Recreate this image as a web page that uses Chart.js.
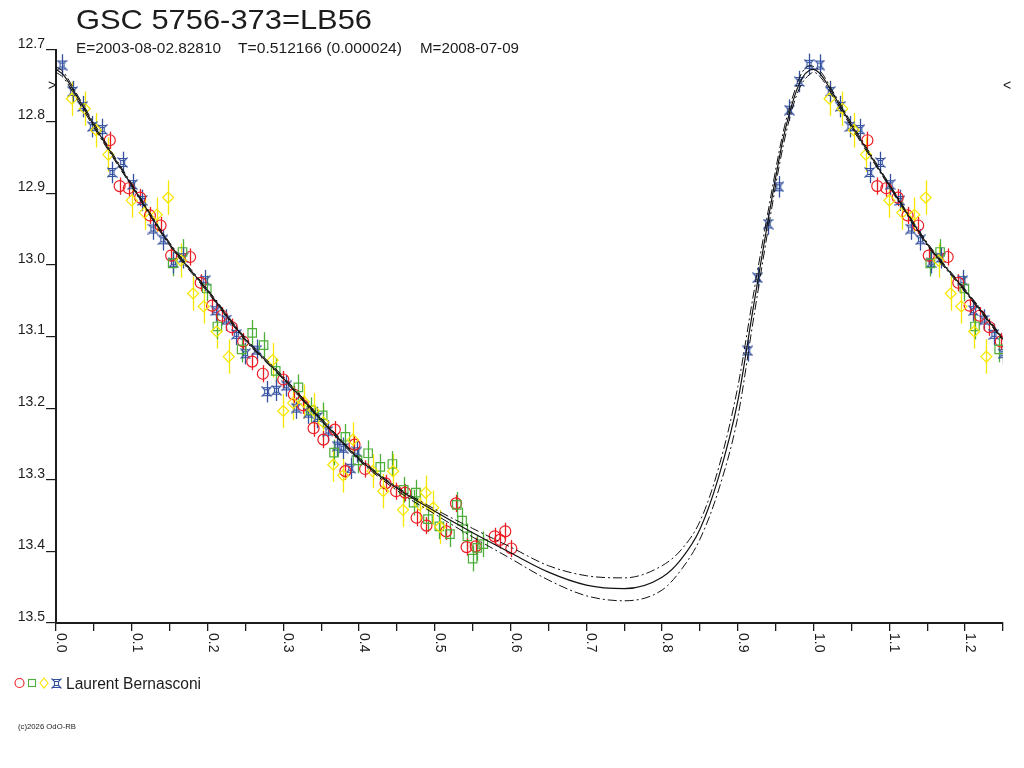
<!DOCTYPE html>
<html>
<head>
<meta charset="utf-8">
<script src="https://cdn.jsdelivr.net/npm/chart.js@4.4.1/dist/chart.umd.min.js"></script>
<style>
html, body { margin: 0; background: #fff; }
canvas { display: block; }
</style>
</head>
<body>
<canvas id="lc" width="1024" height="768"></canvas>
<script>
// observations, phase / magnitude, one pair of arrays per symbol
var redPhase = [0.071, 0.084, 0.096, 0.111, 0.124, 0.138, 0.152, 0.177, 0.191, 0.206, 0.219, 0.232, 0.247, 0.259, 0.273, 0.300, 0.314, 0.326, 0.340, 0.353, 0.368, 0.382, 0.394, 0.408, 0.435, 0.449, 0.461, 0.476, 0.489, 0.515, 0.528, 0.542, 0.554, 0.579, 0.586, 0.593, 0.601];
var redMag   = [12.826, 12.890, 12.893, 12.906, 12.931, 12.945, 12.987, 12.989, 13.025, 13.057, 13.071, 13.087, 13.107, 13.135, 13.152, 13.160, 13.181, 13.196, 13.228, 13.244, 13.230, 13.288, 13.251, 13.285, 13.305, 13.316, 13.318, 13.353, 13.364, 13.372, 13.333, 13.394, 13.393, 13.379, 13.384, 13.372, 13.396];

var greenPhase = [0.154, 0.167, 0.199, 0.213, 0.245, 0.259, 0.274, 0.290, 0.320, 0.337, 0.352, 0.367, 0.382, 0.398, 0.412, 0.428, 0.444, 0.459, 0.472, 0.475, 0.491, 0.506, 0.520, 0.529, 0.536, 0.543, 0.550, 0.556, 0.564];
var greenMag   = [12.998, 12.982, 13.033, 13.086, 13.118, 13.095, 13.112, 13.148, 13.171, 13.203, 13.210, 13.262, 13.240, 13.273, 13.263, 13.282, 13.278, 13.314, 13.332, 13.318, 13.355, 13.365, 13.376, 13.335, 13.357, 13.379, 13.410, 13.395, 13.390];

var yellowPhase = [0.021, 0.038, 0.053, 0.069, 0.100, 0.117, 0.133, 0.148, 0.165, 0.181, 0.195, 0.212, 0.228, 0.286, 0.300, 0.313, 0.327, 0.340, 0.353, 0.366, 0.379, 0.392, 0.418, 0.432, 0.445, 0.458, 0.480, 0.488, 0.498, 0.507];
var yellowMag   = [12.768, 12.782, 12.812, 12.846, 12.910, 12.927, 12.930, 12.906, 12.994, 13.040, 13.058, 13.093, 13.128, 13.133, 13.204, 13.193, 13.191, 13.203, 13.220, 13.279, 13.294, 13.244, 13.288, 13.316, 13.288, 13.342, 13.335, 13.318, 13.339, 13.366];

var bluePhase = [0.008, 0.022, 0.035, 0.048, 0.061, 0.074, 0.088, 0.101, 0.114, 0.128, 0.141, 0.155, 0.168, 0.197, 0.211, 0.225, 0.238, 0.250, 0.265, 0.278, 0.291, 0.304, 0.317, 0.333, 0.345, 0.359, 0.371, 0.379, 0.389, 0.397, 0.913, 0.926, 0.940, 0.954, 0.968, 0.981, 0.994];
var blueMag   = [12.721, 12.758, 12.779, 12.807, 12.811, 12.871, 12.857, 12.888, 12.910, 12.950, 12.965, 12.997, 12.990, 13.022, 13.064, 13.077, 13.097, 13.124, 13.119, 13.177, 13.175, 13.169, 13.200, 13.207, 13.213, 13.232, 13.253, 13.256, 13.284, 13.261, 13.120, 13.018, 12.943, 12.891, 12.784, 12.744, 12.720];

// half length of the error bars, per symbol (red, green, yellow, blue)
var errSize = [0.012, 0.018, 0.024, 0.015];

// fitted light curve and its two envelopes
var curvePhase = [0, 0.01, 0.025, 0.05, 0.1, 0.15, 0.2, 0.25, 0.3, 0.35, 0.4, 0.45, 0.5, 0.55, 0.6, 0.65, 0.7, 0.75, 0.8, 0.825, 0.85, 0.875, 0.9, 0.92, 0.94, 0.96, 0.975, 0.985, 0.995];
var fitMid   = [12.727, 12.735, 12.760, 12.805, 12.889, 12.971, 13.036, 13.104, 13.158, 13.216, 13.271, 13.312, 13.344, 13.374, 13.402, 13.429, 13.447, 13.452, 13.436, 13.411, 13.369, 13.295, 13.190, 13.062, 12.937, 12.823, 12.764, 12.739, 12.728];
var fitUpper = [12.723, 12.731, 12.757, 12.802, 12.887, 12.969, 13.034, 13.102, 13.156, 13.214, 13.269, 13.310, 13.341, 13.368, 13.394, 13.420, 13.434, 13.437, 13.420, 13.398, 13.358, 13.282, 13.170, 13.045, 12.925, 12.814, 12.757, 12.731, 12.722];
var fitLower = [12.731, 12.739, 12.764, 12.808, 12.891, 12.973, 13.038, 13.106, 13.160, 13.218, 13.273, 13.315, 13.348, 13.380, 13.410, 13.440, 13.462, 13.469, 13.454, 13.426, 13.383, 13.313, 13.212, 13.080, 12.950, 12.833, 12.771, 12.746, 12.734];

var xTickLabels = ['0.0', '0.1', '0.2', '0.3', '0.4', '0.5', '0.6', '0.7', '0.8', '0.9', '1.0', '1.1', '1.2'];
var limitMag = 12.75;

var titleText = 'GSC 5756-373=LB56';
var infoTexts = ['E=2003-08-02.82810', 'T=0.512166 (0.000024)', 'M=2008-07-09'];
var observer = 'Laurent Bernasconi';
var copyText = '(c)2026 OdO-RB';

var RED = '#ec1c24', GREEN = '#4dae3a', YELLOW = '#f7e600', BLUE = '#33509f', INK = '#1c1c1c';
var FONT = "'Liberation Sans', Arial, sans-serif";

// phases up to 0.25 are shown a second time after 1.0, as on the original plot
function folded(ph, mag) {
  var out = [];
  for (var i = 0; i < ph.length; i++) {
    out.push({x: ph[i], y: mag[i]});
  }
  for (var j = 0; j < ph.length; j++) {
    if (ph[j] + 1 <= 1.26) out.push({x: ph[j] + 1, y: mag[j]});
  }
  out.sort(function(a, b) { return a.x - b.x; });
  return out;
}

function blueMark(color) {
  var c = document.createElement('canvas');
  c.width = 11; c.height = 11;
  var g = c.getContext('2d');
  g.strokeStyle = color;
  g.lineWidth = 1.1;
  g.strokeRect(3.5, 3.5, 4, 4);
  g.beginPath();
  g.moveTo(0.5, 0.5); g.lineTo(3.5, 3.5);
  g.moveTo(10.5, 0.5); g.lineTo(7.5, 3.5);
  g.moveTo(0.5, 10.5); g.lineTo(3.5, 7.5);
  g.moveTo(10.5, 10.5); g.lineTo(7.5, 7.5);
  g.moveTo(2, 1.5); g.lineTo(9, 1.5);
  g.moveTo(2, 9.5); g.lineTo(9, 9.5);
  g.stroke();
  return c;
}
var starImg = blueMark(BLUE);

function fitText(ctx, txt, x, y, w) {
  var m = ctx.measureText(txt).width;
  ctx.save();
  ctx.translate(x, y);
  ctx.scale(w / m, 1);
  ctx.fillText(txt, 0, 0);
  ctx.restore();
}

var errBars = {
  id: 'errBars',
  beforeDatasetsDraw: function(chart) {
    var ctx = chart.ctx, a = chart.chartArea, xs = chart.scales.x, ys = chart.scales.y;
    ctx.save();
    ctx.beginPath();
    ctx.rect(a.left, a.top, a.right - a.left, a.bottom - a.top);
    ctx.clip();
    ctx.lineWidth = 1.3;
    chart.data.datasets.forEach(function(ds) {
      if (!ds.err) return;
      ctx.strokeStyle = ds.borderColor;
      ds.data.forEach(function(p) {
        var px = Math.round(xs.getPixelForValue(p.x)) + 0.5;
        ctx.beginPath();
        ctx.moveTo(px, ys.getPixelForValue(p.y - ds.err));
        ctx.lineTo(px, ys.getPixelForValue(p.y + ds.err));
        ctx.stroke();
      });
    });
    ctx.restore();
  }
};

var decor = {
  id: 'decor',
  afterDraw: function(chart) {
    var ctx = chart.ctx, xs = chart.scales.x, ys = chart.scales.y, a = chart.chartArea;
    ctx.save();
    ctx.fillStyle = INK;
    ctx.textBaseline = 'alphabetic';
    ctx.textAlign = 'left';

    ctx.font = '28px ' + FONT;
    fitText(ctx, titleText, 76, 29, 296);

    ctx.font = '15px ' + FONT;
    fitText(ctx, infoTexts[0], 76, 53, 145);
    fitText(ctx, infoTexts[1], 238, 53, 164);
    fitText(ctx, infoTexts[2], 420, 53, 99);

    // x labels, turned a quarter clockwise
    ctx.font = '14px ' + FONT;
    xTickLabels.forEach(function(t) {
      var px = xs.getPixelForValue(parseFloat(t));
      ctx.save();
      ctx.translate(px + 1, a.bottom + 10);
      ctx.rotate(Math.PI / 2);
      ctx.fillText(t, 0, 0);
      ctx.restore();
    });

    // limit marks on both sides
    ctx.font = '14px ' + FONT;
    ctx.textBaseline = 'middle';
    ctx.textAlign = 'center';
    var ly = ys.getPixelForValue(limitMag);
    ctx.fillText('>', a.left - 4, ly);
    ctx.fillText('<', a.right + 4, ly);

    // observer legend
    var ly2 = 683;
    ctx.lineWidth = 1.1;
    ctx.strokeStyle = RED;
    ctx.beginPath(); ctx.arc(19.5, ly2, 4.5, 0, Math.PI * 2); ctx.stroke();
    ctx.strokeStyle = GREEN;
    ctx.strokeRect(28.5, ly2 - 3.5, 7, 7);
    ctx.strokeStyle = YELLOW;
    ctx.beginPath();
    ctx.moveTo(44, ly2 - 5); ctx.lineTo(48, ly2); ctx.lineTo(44, ly2 + 5); ctx.lineTo(40, ly2); ctx.closePath();
    ctx.stroke();
    ctx.drawImage(starImg, 51, ly2 - 5);
    ctx.textAlign = 'left';
    ctx.textBaseline = 'alphabetic';
    ctx.font = '16px ' + FONT;
    fitText(ctx, observer, 66, 689, 135);

    ctx.font = '8px ' + FONT;
    fitText(ctx, copyText, 18, 729, 58);
    ctx.restore();
  }
};

function curveSet(mags, dash, w) {
  return {
    data: folded(curvePhase, mags),
    showLine: true,
    borderColor: '#111',
    borderWidth: w,
    borderDash: dash,
    pointRadius: 0,
    cubicInterpolationMode: 'monotone',
    order: 0
  };
}

function pointSet(ph, mag, color, style, r, err) {
  return {
    data: folded(ph, mag),
    borderColor: color,
    backgroundColor: 'rgba(0,0,0,0)',
    pointStyle: style,
    pointRadius: r,
    pointBorderWidth: 1.2,
    err: err,
    order: 1
  };
}

var ctx = document.getElementById('lc').getContext('2d');
var chart = new Chart(ctx, {
  type: 'scatter',
  data: {
    datasets: [
      curveSet(fitMid, [], 1.2),
      curveSet(fitUpper, [9, 3, 2, 3], 1.0),
      curveSet(fitLower, [9, 3, 2, 3], 1.0),
      pointSet(yellowPhase, yellowMag, YELLOW, 'rectRot', 5.5, errSize[2]),
      pointSet(greenPhase, greenMag, GREEN, 'rect', 6, errSize[1]),
      pointSet(redPhase, redMag, RED, 'circle', 5.5, errSize[0]),
      pointSet(bluePhase, blueMag, BLUE, starImg, 5, errSize[3])
    ]
  },
  options: {
    responsive: false,
    animation: false,
    devicePixelRatio: 1,
    layout: { padding: { top: 50, right: 21, left: 0, bottom: 0 } },
    plugins: { legend: { display: false }, tooltip: { enabled: false } },
    scales: {
      x: {
        type: 'linear',
        min: 0,
        max: 1.25,
        afterFit: function(s) { s.height = 145; },
        ticks: { stepSize: 0.05, maxTicksLimit: 100, display: false },
        grid: { drawOnChartArea: false, drawTicks: true, tickLength: 8, color: INK, lineWidth: 1.3 },
        border: { display: true, color: INK, width: 2 }
      },
      y: {
        reverse: true,
        min: 12.7,
        max: 13.5,
        afterFit: function(s) { s.width = 56; },
        ticks: {
          stepSize: 0.1,
          padding: 1,
          labelOffset: -6,
          color: INK,
          font: { family: FONT, size: 14 },
          callback: function(v) { return v.toFixed(1); }
        },
        grid: { drawOnChartArea: false, drawTicks: true, tickLength: 10, color: INK, lineWidth: 1.2 },
        border: { display: true, color: INK, width: 2 }
      }
    }
  },
  plugins: [errBars, decor]
});
</script>
</body>
</html>
